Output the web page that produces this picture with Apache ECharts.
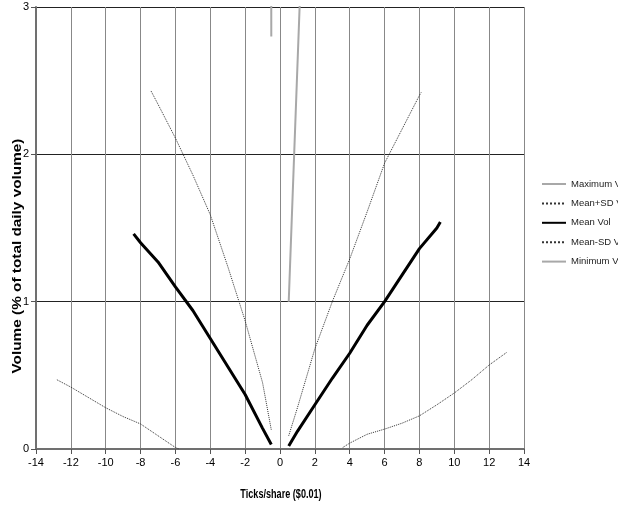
<!DOCTYPE html>
<html>
<head>
<meta charset="utf-8">
<script src="https://cdn.jsdelivr.net/npm/echarts@6/dist/echarts.min.js"></script>
<style>html,body{margin:0;padding:0;background:#fff;}#c{width:618px;height:508px;}</style>
</head>
<body>
<div id="c"></div>
<script>
var xTicks = [-14,-12,-10,-8,-6,-4,-2,0,2,4,6,8,10,12,14];
var yTicks = [0,1,2,3];
var seriesNames = ['Maximum Vol','Mean+SD Vol','Mean Vol','Mean-SD Vol','Minimum Vol'];

var maxLeftX = [-1, -0.5];
var maxLeftY = [60, 2.8];
var maxRightX = [0.5, 1.5];
var maxRightY = [1.0, 4.2];

var sdUpLeftX = [-7.4, -7, -6, -5, -4, -3, -2, -1, -0.5];
var sdUpLeftY = [2.43, 2.34, 2.11, 1.86, 1.59, 1.24, 0.87, 0.45, 0.13];
var sdUpRightX = [0.5, 1, 2, 3, 4, 5, 6, 7, 8, 8.1];
var sdUpRightY = [0.09, 0.28, 0.68, 1.0, 1.29, 1.61, 1.94, 2.17, 2.40, 2.42];

var meanLeftX = [-8.4, -8, -7, -6, -5, -4, -3, -2, -1, -0.5];
var meanLeftY = [1.46, 1.40, 1.27, 1.10, 0.94, 0.75, 0.56, 0.37, 0.14, 0.03];
var meanRightX = [0.5, 1, 2, 3, 4, 5, 6, 7, 8, 9, 9.2];
var meanRightY = [0.02, 0.12, 0.30, 0.48, 0.65, 0.84, 1.0, 1.18, 1.36, 1.50, 1.54];

var sdDnLeftX = [-12.8, -12, -11, -10, -9, -8, -7, -6, -5.8];
var sdDnLeftY = [0.47, 0.42, 0.35, 0.28, 0.22, 0.17, 0.09, 0.01, 0];
var sdDnRightX = [3.6, 4, 5, 6, 7, 8, 9, 10, 11, 12, 13];
var sdDnRightY = [0.01, 0.04, 0.10, 0.135, 0.175, 0.225, 0.30, 0.38, 0.47, 0.57, 0.655];

var minX = [-0.5, 0.5];
var minY = [0, 0];

function pairs(lx, ly, rx, ry) {
  var d = [];
  for (var i = 0; i < lx.length; i++) d.push([lx[i], ly[i]]);
  if (rx) {
    d.push([0, '-']);
    for (var j = 0; j < rx.length; j++) d.push([rx[j], ry[j]]);
  }
  return d;
}

var sans = '"Liberation Sans", Arial, sans-serif';

var chart = echarts.init(document.getElementById('c'), null, {renderer: 'canvas'});
chart.setOption({
  animation: false,
  backgroundColor: '#ffffff',
  grid: {left: 36, right: 94, top: 7, bottom: 59, containLabel: false},
  xAxis: {
    type: 'value', min: xTicks[0], max: xTicks[xTicks.length - 1], interval: 2,
    axisLine: {show: true, onZero: false, lineStyle: {color: '#707070', width: 2}},
    axisTick: {show: true, length: 5, lineStyle: {color: '#555'}},
    axisLabel: {margin: 8, color: '#000', fontFamily: sans, fontSize: 11},
    splitLine: {show: true, lineStyle: {color: '#888', width: 1}}
  },
  yAxis: {
    type: 'value', min: yTicks[0], max: yTicks[yTicks.length - 1], interval: 1,
    axisLine: {show: true, onZero: false, lineStyle: {color: '#707070', width: 2}},
    axisTick: {show: true, length: 5, lineStyle: {color: '#555'}},
    axisLabel: {margin: 7, color: '#000', fontFamily: sans, fontSize: 11},
    splitLine: {show: true, lineStyle: {color: '#222', width: 1}}
  },
  legend: {
    orient: 'vertical', left: 541, top: 178, padding: 0,
    itemWidth: 24, itemHeight: 8, itemGap: 7.4,
    itemStyle: {opacity: 0},
    textStyle: {fontFamily: sans, fontSize: 9.5, color: '#222', lineHeight: 12},
    data: seriesNames
  },
  graphic: [
    {type: 'text', x: 17, y: 256, rotation: Math.PI / 2, scaleX: 1.18,
     style: {text: 'Volume (% of total daily volume)', font: 'bold 13px ' + sans,
             fill: '#000', align: 'center', verticalAlign: 'middle'}},
    {type: 'text', x: 281, y: 494, scaleX: 0.7,
     style: {text: 'Ticks/share ($0.01)', font: 'bold 13px ' + sans,
             fill: '#000', align: 'center', verticalAlign: 'middle'}}
  ],
  series: [
    {name: seriesNames[0], type: 'line', symbol: 'none', clip: true,
     lineStyle: {color: '#a8a8a8', width: 2}, itemStyle: {color: '#a8a8a8'},
     data: pairs(maxLeftX, maxLeftY, maxRightX, maxRightY)},
    {name: seriesNames[1], type: 'line', symbol: 'none', clip: true,
     lineStyle: {color: '#333', width: 1, type: 'dotted'}, itemStyle: {color: '#333'},
     data: pairs(sdUpLeftX, sdUpLeftY, sdUpRightX, sdUpRightY)},
    {name: seriesNames[2], type: 'line', symbol: 'none', clip: true,
     lineStyle: {color: '#000', width: 3}, itemStyle: {color: '#000'},
     data: pairs(meanLeftX, meanLeftY, meanRightX, meanRightY)},
    {name: seriesNames[3], type: 'line', symbol: 'none', clip: true,
     lineStyle: {color: '#333', width: 1, type: 'dotted'}, itemStyle: {color: '#333'},
     data: pairs(sdDnLeftX, sdDnLeftY, sdDnRightX, sdDnRightY)},
    {name: seriesNames[4], type: 'line', symbol: 'none', clip: true, z: -1,
     lineStyle: {color: '#a8a8a8', width: 2}, itemStyle: {color: '#a8a8a8'},
     data: pairs(minX, minY)}
  ]
});
</script>
</body>
</html>
